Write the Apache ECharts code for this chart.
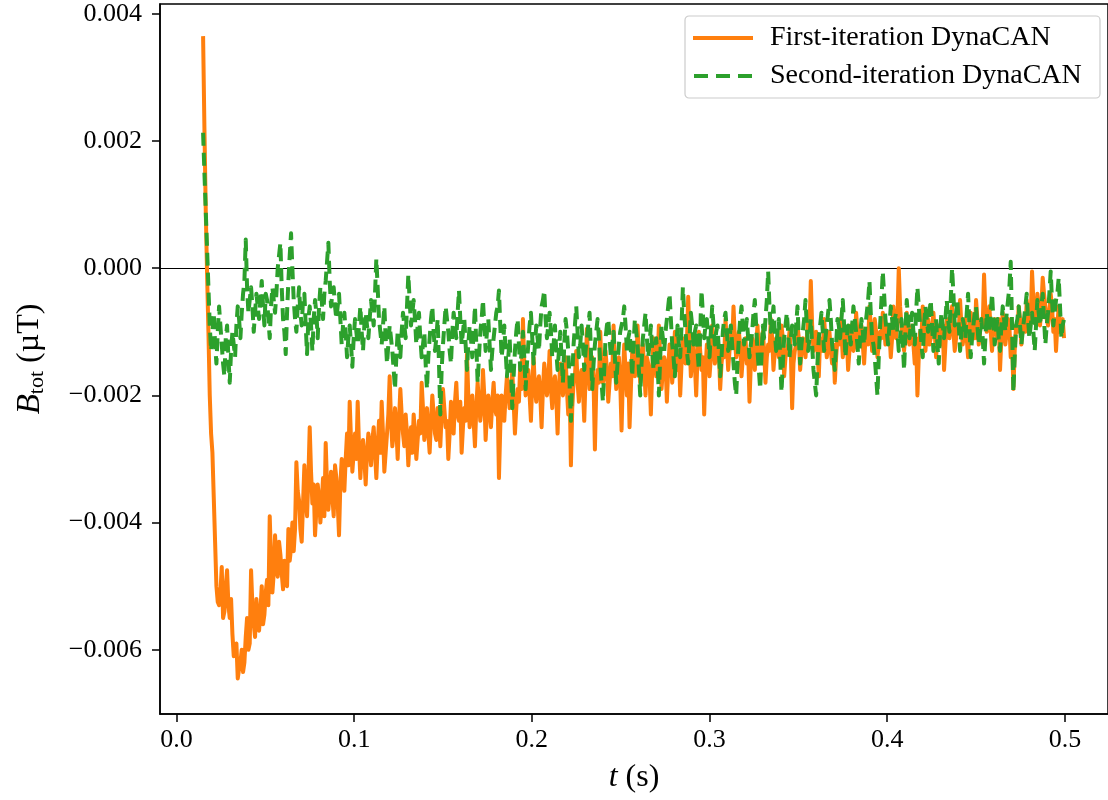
<!DOCTYPE html>
<html>
<head>
<meta charset="utf-8">
<script src="https://cdn.jsdelivr.net/npm/echarts@6/dist/echarts.min.js"></script>
<style>
  html, body { margin: 0; padding: 0; background: #fff; }
  #chart { width: 1108px; height: 800px; }
</style>
</head>
<body>
<div id="chart"></div>
<script>
// Sampling grid of the recorded field (seconds)
const sampleStart = 0.015;
const sampleStep = 0.00075;

// Total field magnitude, in nT (1 nT = 0.001 µT)
const firstIterationNT = [
  3.65, 2.2, 0.9, -0.1, -1.0, -2.0, -2.6, -2.9, -3.6, -4.3, -5.0, -5.25, -5.3, -5.1, -4.7, -5.5, -5.4, -5.0, -4.75, -5.3,
  -5.5, -5.2, -5.75, -6.1, -6.0, -5.9, -6.45, -6.3, -6.2, -6.0, -6.35, -6.2, -5.8, -5.5, -6.0, -5.9, -4.75, -5.3, -5.6, -5.8,
  -5.2, -5.5, -5.7, -5.4, -5.0, -5.6, -5.45, -5.1, -4.9, -5.3, -3.9, -4.6, -5.1, -4.8, -4.2, -4.6, -4.85, -4.3, -4.5, -4.8,
  -5.05, -4.6, -4.9, -5.0, -4.1, -4.6, -4.4, -4.0, -4.45, -4.1, -3.05, -3.5, -3.65, -4.1, -4.3, -3.7, -3.1, -3.6, -3.9, -3.3,
  -2.5, -3.2, -3.7, -3.4, -4.2, -3.8, -3.4, -3.6, -4.0, -3.7, -3.3, -3.9, -2.75, -3.4, -3.8, -3.5, -3.2, -3.6, -3.9, -3.1,
  -3.3, -3.7, -4.2, -3.4, -3.0, -3.2, -3.5, -3.0, -2.6, -3.1, -2.1, -2.7, -3.2, -2.9, -2.6, -3.0, -2.1, -2.8, -3.3, -2.9,
  -2.7, -3.0, -3.4, -2.9, -2.6, -2.8, -3.1, -2.7, -2.5, -2.9, -3.3, -2.8, -2.4, -2.9, -2.1, -2.6, -3.2, -2.9, -2.6, -2.3,
  -1.7, -2.4, -2.8, -2.6, -2.2, -2.5, -3.0, -2.4, -1.9, -2.3, -2.6, -2.8, -2.3, -2.6, -3.1, -2.7, -2.5, -2.9, -2.3, -2.6,
  -3.0, -2.7, -2.4, -2.6, -1.8, -2.2, -2.7, -2.5, -2.2, -2.6, -2.9, -2.4, -2.0, -2.3, -2.6, -2.7, -2.2, -2.4, -2.8, -2.3,
  -1.9, -2.2, -2.5, -2.4, -3.0, -2.6, -2.1, -2.3, -2.6, -2.1, -1.8, -2.3, -2.4, -2.1, -2.9, -2.5, -2.2, -2.4, -1.35, -2.0,
  -2.5, -2.3, -2.0, -2.4, -2.8, -2.2, -1.8, -2.1, -2.4, -2.2, -1.6, -2.0, -2.7, -2.3, -2.0, -2.2, -2.5, -2.1, -1.8, -2.2,
  -2.3, -2.0, -3.3, -2.5, -2.0, -2.1, -2.4, -2.0, -1.7, -1.9, -2.2, -2.0, -1.6, -2.1, -2.6, -2.2, -1.9, -2.1, -1.5, -1.9,
  -0.8, -1.5, -2.0, -1.8, -1.6, -2.0, -2.4, -1.8, -1.4, -1.9, -2.1, -1.8, -1.7, -2.0, -2.5, -1.9, -1.5, -1.7, -2.0, -1.8,
  -1.3, -1.9, -2.2, -1.8, -1.7, -2.0, -2.6, -1.9, -1.5, -1.7, -2.0, -1.8, -1.4, -1.9, -2.3, -1.8, -3.1, -2.2, -1.8, -1.7,
  -1.3, -1.8, -2.1, -1.7, -1.6, -1.9, -2.4, -1.7, -0.95, -1.5, -1.9, -1.7, -1.4, -1.8, -2.85, -1.9, -1.6, -1.8, -1.0, -1.6,
  -1.8, -1.7, -1.3, -1.6, -2.1, -1.8, -1.5, -1.7, -0.9, -1.5, -1.9, -1.6, -1.4, -1.8, -2.55, -1.7, -1.2, -1.6, -2.0, -1.5,
  -2.5, -1.9, -1.3, -1.5, -1.7, -1.6, -0.9, -1.4, -1.8, -1.5, -1.2, -1.6, -2.0, -1.4, -1.5, -1.7, -2.3, -1.6, -1.1, -1.4,
  -1.7, -1.5, -0.9, -1.4, -1.9, -1.6, -1.4, -1.5, -2.1, -1.6, -1.2, -1.4, -1.8, -1.5, -1.0, -1.4, -1.6, -1.3, -2.0, -1.5,
  -1.1, -1.3, -1.5, -1.2, -0.45, -1.1, -1.7, -1.4, -1.2, -1.5, -2.0, -1.4, -1.0, -1.3, -1.6, -1.4, -2.3, -1.6, -1.2, -1.3,
  -1.7, -1.4, -0.9, -1.2, -1.5, -1.4, -1.1, -1.3, -1.9, -1.5, -1.3, -1.4, -0.8, -1.2, -1.6, -1.3, -1.0, -1.2, -0.6, -1.1,
  -1.4, -1.3, -1.0, -1.2, -1.7, -1.4, -1.2, -1.1, -1.5, -1.3, -2.1, -1.5, -1.1, -1.3, -1.6, -1.2, -0.9, -1.3, -1.4, -1.2,
  -1.0, -1.3, -1.8, -1.4, -1.2, -1.3, -0.8, -1.1, -1.6, -1.3, -1.1, -1.2, -1.4, -1.3, -0.9, -1.1, -1.7, -1.4, -1.3, -1.2,
  -1.0, -1.3, -2.2, -1.5, -1.3, -1.2, -0.9, -1.1, -1.6, -1.3, -1.1, -1.2, -1.4, -1.1, -0.8, -1.0, -0.2, -0.9, -1.3, -1.2,
  -1.0, -1.3, -1.7, -1.1, -1.2, -1.3, -0.8, -1.1, -1.4, -1.2, -1.0, -1.3, -1.5, -1.2, -1.8, -1.4, -1.1, -1.2, -0.8, -1.0,
  -1.4, -1.2, -1.0, -1.1, -1.6, -1.3, -0.9, -1.1, -1.3, -1.2, -0.7, -1.0, -1.2, -1.1, -0.9, -1.2, -1.5, -1.1, -1.0, -1.2,
  -0.6, -0.9, -1.3, -1.1, -0.8, -1.0, -1.4, -1.2, -1.0, -1.1, -0.7, -0.9, -1.2, -1.1, -0.9, -1.0, -1.4, -1.1, -0.6, -0.9,
  -1.1, -0.8, 0.0, -0.6, -0.9, -1.1, -1.3, -1.0, -0.7, -1.1, -1.2, -1.0, -0.9, -1.2, -1.5, -1.1, -2.0, -1.4, -1.0, -1.1,
  -0.6, -0.9, -1.3, -1.0, -0.8, -1.2, -1.1, -0.9, -0.7, -1.0, -1.4, -1.1, -0.9, -1.0, -1.2, -0.9, -1.6, -1.2, -0.8, -1.0,
  -1.1, -0.9, -0.6, -1.0, -1.3, -1.1, -0.9, -1.0, -0.5, -0.9, -1.2, -1.0, -0.8, -1.1, -1.4, -1.0, -0.7, -0.9, -1.0, -1.1,
  -0.5, -0.8, -1.2, -1.0, -0.8, -0.9, -0.1, -0.7, -1.0, -0.9, -0.6, -1.0, -1.3, -0.9, -0.8, -1.0, -1.1, -0.8, -1.6, -1.1,
  -0.7, -0.9, -1.2, -1.0, -0.8, -0.9, -1.4, -1.1, -1.9, -1.3, -0.9, -1.0, -0.6, -0.8, -1.2, -0.9, -0.8, -1.0, -0.5, -0.7,
  -1.0, -0.8, -0.05, -0.5, -0.7, -0.9, -0.4, -0.7, -0.9, -0.6, -0.15, -0.4, -0.6, -0.8, -0.9, -0.7, -0.4, -0.6, -1.0, -0.8,
  -1.3, -0.9, -0.6, -1.0, -0.9, -0.8, -1.1
];

const secondIterationNT = [
  2.13, 1.5, 0.9, 0.3, -0.3, -0.9, -1.3, -1.0, -0.7, -1.2, -1.5, -1.0, -0.6, -0.9, -1.2, -1.5, -1.7, -1.1, -0.9, -1.4,
  -1.8, -1.3, -1.0, -1.2, -1.4, -0.9, -0.6, -0.8, -1.1, -0.7, -0.4, -0.2, 0.45, -0.3, -0.7, -0.5, -0.3, -0.6, -1.0, -0.7,
  -0.4, -0.6, -0.8, -0.5, -0.2, -0.6, -0.9, -0.4, -0.5, -0.8, -1.1, -0.6, -0.3, -0.5, -0.7, -0.4, 0.0, 0.2, 0.4, -0.3,
  -0.8, -1.0, -1.35, -0.7, -0.2, 0.2, 0.55, 0.0, -0.5, -0.8, -1.0, -0.6, -0.3, -0.7, -0.9, -0.5, -0.4, -0.9, -1.35, -0.8,
  -0.6, -0.9, -1.3, -0.8, -0.5, -0.7, -1.1, -0.6, -0.3, -0.5, -0.8, -0.4, -0.2, 0.1, 0.4, -0.2, -0.6, -0.4, -0.3, -0.6,
  -0.8, -0.6, -0.4, -0.8, -1.2, -0.9, -0.7, -1.0, -1.4, -1.1, -0.9, -1.2, -1.55, -1.1, -0.8, -1.0, -1.2, -0.9, -0.6, -1.0,
  -1.3, -0.9, -0.7, -0.9, -1.1, -0.8, -0.5, -0.7, -0.9, -0.4, 0.15, -0.3, -0.8, -1.0, -1.2, -0.9, -0.6, -1.1, -1.5, -1.2,
  -0.9, -1.1, -1.3, -1.6, -1.9, -1.4, -1.0, -1.2, -1.4, -1.0, -0.7, -0.9, -1.1, -0.6, -0.1, -0.5, -0.9, -0.7, -0.5, -0.8,
  -1.2, -0.9, -0.7, -1.1, -1.4, -1.2, -1.0, -1.5, -1.9, -1.4, -1.1, -0.8, -0.6, -1.0, -1.3, -1.1, -0.8, -1.5, -2.3, -1.6,
  -1.2, -0.9, -0.6, -0.8, -1.0, -1.3, -1.5, -1.0, -0.7, -0.9, -1.1, -0.7, -0.35, -0.8, -1.2, -1.0, -0.8, -1.2, -1.6, -1.2,
  -0.9, -1.1, -1.4, -1.0, -0.6, -1.2, -1.8, -1.4, -1.0, -0.8, -0.5, -0.9, -1.3, -1.0, -0.8, -1.2, -1.6, -1.3, -1.1, -0.9,
  -0.7, -0.6, -0.35, -0.9, -1.4, -1.2, -0.9, -1.3, -1.7, -1.4, -1.1, -1.6, -2.2, -1.7, -1.3, -1.0, -0.8, -1.2, -1.6, -1.3,
  -1.0, -1.4, -1.9, -1.5, -1.2, -0.9, -0.7, -1.1, -1.5, -1.2, -0.9, -1.1, -1.3, -0.9, -0.6, -0.5, -0.35, -0.8, -1.1, -0.9,
  -0.7, -1.0, -1.4, -1.2, -0.9, -1.3, -1.6, -1.3, -1.0, -1.4, -1.8, -1.2, -0.8, -1.0, -1.3, -1.8, -2.4, -1.7, -1.2, -0.9,
  -0.6, -1.0, -1.4, -1.2, -0.9, -1.2, -1.6, -1.3, -1.1, -0.9, -0.7, -1.3, -1.9, -1.5, -1.2, -1.0, -0.8, -1.1, -1.5, -1.8,
  -2.1, -1.6, -1.1, -0.9, -0.8, -1.1, -1.4, -1.2, -1.0, -1.4, -1.8, -1.5, -1.2, -1.0, -0.9, -0.8, -0.6, -0.9, -1.3, -1.1,
  -1.0, -1.3, -1.7, -1.2, -0.8, -1.0, -1.2, -1.6, -2.0, -1.5, -1.1, -0.9, -0.7, -1.1, -1.4, -1.2, -0.9, -1.3, -1.6, -1.3,
  -1.1, -1.5, -2.0, -1.4, -0.9, -1.1, -1.3, -1.0, -0.8, -0.6, -0.4, -0.8, -1.2, -1.4, -1.7, -1.3, -0.9, -1.2, -1.4, -0.9,
  -0.3, -0.7, -1.0, -1.3, -1.5, -1.1, -0.7, -0.9, -1.2, -1.0, -0.9, -1.3, -1.6, -1.0, -0.35, -0.7, -1.1, -0.9, -0.8, -1.1,
  -1.4, -1.0, -0.6, -0.9, -1.2, -1.0, -0.9, -1.3, -1.7, -1.4, -1.0, -0.8, -0.7, -1.0, -1.3, -1.1, -0.9, -1.2, -1.5, -1.8,
  -2.0, -1.5, -1.1, -0.8, -0.6, -0.9, -1.2, -1.0, -0.8, -1.1, -1.4, -1.2, -1.0, -0.7, -0.5, -0.9, -1.3, -1.6, -1.9, -1.4,
  -0.9, -1.1, -0.8, -0.5, -0.05, -0.6, -1.0, -0.8, -0.6, -1.0, -1.3, -1.0, -0.8, -1.4, -1.95, -1.5, -1.1, -0.9, -0.7, -1.0,
  -1.4, -1.1, -0.9, -1.0, -1.2, -0.9, -0.6, -1.1, -1.5, -1.2, -1.0, -0.8, -0.5, -0.9, -1.3, -1.1, -0.8, -1.2, -1.6, -1.8,
  -2.0, -1.5, -1.1, -0.9, -0.7, -1.0, -1.3, -1.1, -0.9, -0.7, -0.5, -0.8, -1.2, -1.4, -1.6, -1.2, -0.8, -0.9, -1.1, -0.8,
  -0.5, -0.9, -1.4, -1.1, -0.9, -1.0, -1.2, -0.9, -0.6, -0.8, -1.0, -1.2, -1.5, -1.1, -0.8, -1.0, -1.2, -0.9, -0.7, -0.5,
  -0.2, -0.7, -1.1, -1.2, -1.4, -1.7, -2.0, -1.4, -0.9, -0.5, -0.05, -0.4, -0.8, -1.0, -1.2, -0.9, -0.6, -0.8, -1.0, -0.8,
  -0.7, -1.0, -1.3, -1.1, -0.8, -1.2, -1.6, -1.0, -0.5, -0.8, -1.1, -0.9, -0.7, -1.0, -1.2, -0.7, -0.3, -0.6, -0.9, -1.2,
  -1.4, -0.9, -0.6, -0.8, -1.0, -0.7, -0.5, -0.9, -1.3, -1.0, -0.8, -1.2, -1.5, -1.0, -0.7, -0.9, -1.1, -0.8, -0.5, -0.8,
  -1.0, -0.5, 0.0, -0.4, -0.9, -0.7, -0.5, -0.9, -1.3, -1.0, -0.8, -0.9, -1.1, -0.7, -0.4, -0.9, -1.4, -1.1, -0.9, -0.7,
  -0.6, -0.9, -1.2, -1.0, -0.8, -1.1, -1.5, -1.1, -0.7, -0.9, -1.0, -0.7, -0.4, -0.8, -1.2, -1.0, -0.8, -1.1, -1.3, -0.9,
  -0.6, -0.8, -1.0, -0.7, -0.5, -0.3, 0.1, -0.9, -1.95, -1.4, -0.9, -0.8, -0.6, -0.9, -1.2, -1.0, -0.8, -0.6, -0.4, -0.8,
  -1.1, -0.9, -0.7, -1.0, -1.3, -0.9, -0.5, -0.7, -0.9, -0.6, -0.4, -0.8, -1.2, -0.9, -0.7, -0.4, -0.05, -0.5, -0.9, -0.7,
  -0.5, -0.4, -0.15, -0.6, -1.1, -0.9, -0.8
];

const seriesNames = ['First-iteration DynaCAN', 'Second-iteration DynaCAN'];
const xTickValues = [0, 0.1, 0.2, 0.3, 0.4, 0.5];
const yTickValues = [-0.006, -0.004, -0.002, 0, 0.002, 0.004];

const FONT = "'Liberation Serif', 'DejaVu Serif', serif";
const ORANGE = '#ff7f0e';
const GREEN = '#2ca02c';

// [time in s, field in µT]
function toPoints(valuesNT) {
  return valuesNT.map((v, i) => [sampleStart + i * sampleStep, v / 1000]);
}

const chart = echarts.init(document.getElementById('chart'), null, { renderer: 'canvas' });

const axisLineStyle = { color: '#000', width: 1.5 };

chart.setOption({
  animation: false,
  backgroundColor: '#fff',
  grid: {
    left: 160, right: -5, top: 4, bottom: 86,
    show: true, borderColor: '#000', borderWidth: 1.5
  },
  legend: {
    data: [
      { name: seriesNames[0], icon: 'path://M0 0H60V4H0Z', itemStyle: { color: ORANGE } },
      { name: seriesNames[1], icon: 'path://M0 0H14V4H0Z M22 0H36V4H22Z M44 0H58V4H44Z', itemStyle: { color: GREEN } }
    ],
    orient: 'vertical',
    right: 8, top: 16,
    padding: [7, 12, 7, 8],
    itemGap: 8,
    itemWidth: 60,
    itemHeight: 4,
    backgroundColor: 'rgba(255,255,255,0.8)',
    borderColor: '#cccccc',
    borderWidth: 1.2,
    borderRadius: 4,
    textStyle: {
      fontFamily: FONT, fontSize: 28, color: '#000',
      lineHeight: 30, width: 318, padding: [0, 0, 0, 12]
    }
  },
  xAxis: {
    type: 'value',
    min: -0.00925, max: 0.52425,
    axisLine: { show: true, onZero: false, lineStyle: axisLineStyle },
    axisTick: { show: true, length: 8, lineStyle: axisLineStyle, customValues: xTickValues },
    axisLabel: {
      customValues: xTickValues,
      formatter: v => v.toFixed(1),
      fontFamily: FONT, fontSize: 26, color: '#000', margin: 13
    },
    splitLine: { show: false },
    name: '{i|t} (s)',
    nameLocation: 'middle',
    nameGap: 48,
    nameTextStyle: {
      fontFamily: FONT, fontSize: 32, color: '#000',
      rich: { i: { fontFamily: FONT, fontSize: 32, fontStyle: 'italic', color: '#000' } }
    }
  },
  yAxis: {
    type: 'value',
    min: -0.00701, max: 0.004155,
    axisLine: { show: true, onZero: false, lineStyle: axisLineStyle },
    axisTick: { show: true, length: 8, lineStyle: axisLineStyle, customValues: yTickValues },
    axisLabel: {
      customValues: yTickValues,
      formatter: v => (v < 0 ? '\u2212' : '') + Math.abs(v).toFixed(3),
      fontFamily: FONT, fontSize: 26, color: '#000', margin: 18
    },
    splitLine: { show: false },
    name: '{i|B}{s|tot} (µT)',
    nameLocation: 'middle',
    nameRotate: 90,
    nameGap: 112,
    nameTextStyle: {
      fontFamily: FONT, fontSize: 32, color: '#000',
      rich: {
        i: { fontFamily: FONT, fontSize: 33, fontStyle: 'italic', color: '#000' },
        s: { fontFamily: FONT, fontSize: 22, color: '#000', padding: [14, 0, 0, 0] }
      }
    }
  },
  series: [
    {
      name: seriesNames[0],
      type: 'line',
      data: toPoints(firstIterationNT),
      symbol: 'none',
      z: 2,
      lineStyle: { color: ORANGE, width: 4, cap: 'butt', join: 'round' },
      itemStyle: { color: ORANGE },
      markLine: {
        silent: true,
        z: 1,
        symbol: ['none', 'none'],
        label: { show: false },
        lineStyle: { color: '#000', width: 1, type: 'solid' },
        data: [{ yAxis: 0 }]
      }
    },
    {
      name: seriesNames[1],
      type: 'line',
      data: toPoints(secondIterationNT),
      symbol: 'none',
      z: 3,
      lineStyle: { color: GREEN, width: 4, type: [13, 7], cap: 'butt', join: 'round' },
      itemStyle: { color: GREEN }
    }
  ]
});
</script>
</body>
</html>
